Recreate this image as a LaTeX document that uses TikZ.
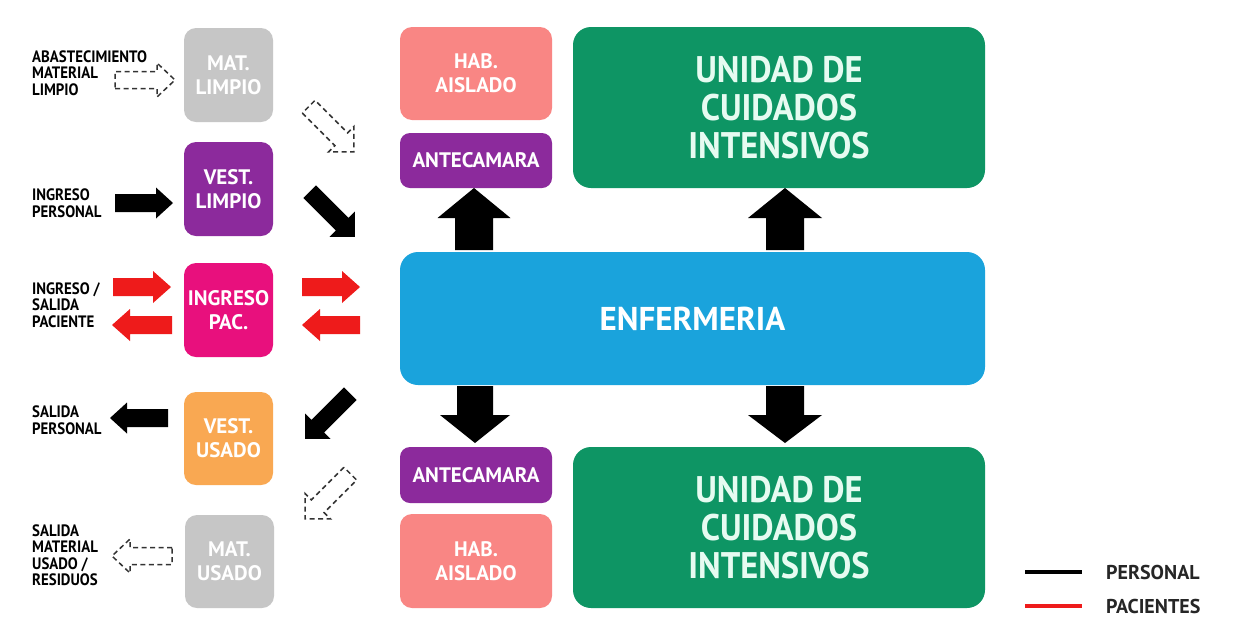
\documentclass[tikz,border=0pt]{standalone}
\usepackage{fontspec}
\newfontfamily\bxfont{PT Sans}
\newfontfamily\ucifont[FakeStretch=0.93]{PT Sans}
\newfontfamily\lblfont[FakeStretch=0.9]{PT Sans}
\definecolor{cgray}{HTML}{C6C6C6}
\definecolor{cpurple}{HTML}{8C2A9C}
\definecolor{cmagenta}{HTML}{E8107D}
\definecolor{corange}{HTML}{F9A852}
\definecolor{csalmon}{HTML}{F98684}
\definecolor{cgreen}{HTML}{0E9564}
\definecolor{cblue}{HTML}{1AA3DC}
\definecolor{cred}{HTML}{EE1B1B}
\definecolor{cmint}{HTML}{E6FBF1}
\newcommand\blockarrow[7]{%
  \begin{scope}[shift={(#2)},rotate=#3]
    \path[#1] (0,-#5) -- ({#4-#7},-#5) -- ({#4-#7},-#6) -- (#4,0) -- ({#4-#7},#6) -- ({#4-#7},#5) -- (0,#5) -- cycle;
  \end{scope}}
\tikzset{
  box/.style={rounded corners=12pt, inner sep=0pt, align=center, text=white,
    font=\bxfont\bfseries\fontsize{21}{24}\selectfont},
  bigbox/.style={rounded corners=18pt, inner sep=0pt, align=center},
  lbl/.style={anchor=west, align=left, inner sep=0pt, text=black,
    font=\lblfont\bfseries\fontsize{16.5}{16.5}\selectfont},
  legtext/.style={anchor=west, inner sep=0pt, text=black!85,
    font=\bxfont\bfseries\fontsize{20}{22}\selectfont},
  blkarr/.style={fill=black},
  redarr/.style={fill=cred},
  dasharr/.style={draw=black!80, fill=white, line width=1.5pt, dash pattern=on 5pt off 3.5pt},
  legline/.style={line width=4pt}
}
\begin{document}
\begin{tikzpicture}[x=1pt,y=1pt]
\useasboundingbox[fill=white] (0,0) rectangle (1260,-630);
% left column boxes
\node[box, fill=cgray, minimum width=89pt, minimum height=94pt] (matl) at (228.5,-75) {MAT.\\LIMPIO};
\node[box, fill=cpurple, minimum width=89pt, minimum height=94pt] (vestl) at (228.5,-189) {VEST.\\LIMPIO};
\node[box, fill=cmagenta, minimum width=89pt, minimum height=94pt] (ingpac) at (228.5,-310) {INGRESO\\PAC.};
\node[box, fill=corange, minimum width=89pt, minimum height=93pt] (vestu) at (228.5,-438.5) {VEST.\\USADO};
\node[box, fill=cgray, minimum width=89pt, minimum height=93pt] (matu) at (229.5,-561.5) {MAT.\\USADO};
% middle column
\node[box, fill=csalmon, minimum width=152pt, minimum height=93pt] (habt) at (476,-73.5) {HAB.\\AISLADO};
\node[box, fill=cpurple, minimum width=152pt, minimum height=55pt, rounded corners=10pt] (antet) at (476,-160.5) {ANTECAMARA};
\node[box, fill=cpurple, minimum width=152pt, minimum height=56pt, rounded corners=10pt] (anteb) at (476,-475) {ANTECAMARA};
\node[box, fill=csalmon, minimum width=152pt, minimum height=94pt] (habb) at (476,-561) {HAB.\\AISLADO};
% big boxes
\node[bigbox, fill=cgreen, minimum width=412pt, minimum height=161pt, text=cmint,
  font=\ucifont\bfseries\fontsize{37}{38}\selectfont] (ucit) at (779,-107.5) {UNIDAD DE\\CUIDADOS\\INTENSIVOS};
\node[bigbox, fill=cblue, minimum width=585pt, minimum height=133pt, text=white,
  font=\bxfont\bfseries\fontsize{33}{36}\selectfont] (enf) at (692.5,-318.5) {ENFERMERIA};
\node[bigbox, fill=cgreen, minimum width=412pt, minimum height=161pt, text=cmint,
  font=\ucifont\bfseries\fontsize{37}{38}\selectfont] (ucib) at (779,-527.5) {UNIDAD DE\\CUIDADOS\\INTENSIVOS};
% left labels
\node[lbl] (l1) at (32,-73) {ABASTECIMIENTO\\MATERIAL\\LIMPIO};
\node[lbl] (l2) at (32,-203) {INGRESO\\PERSONAL};
\node[lbl] (l3) at (32,-305) {INGRESO /\\SALIDA\\PACIENTE};
\node[lbl] (l4) at (32,-420) {SALIDA\\PERSONAL};
\node[lbl] (l5) at (32,-555) {SALIDA\\MATERIAL\\USADO /\\RESIDUOS};
% horizontal arrows
\blockarrow{dasharr}{115,-80}{0}{60}{8.5}{17}{18}
\blockarrow{blkarr}{115,-203}{0}{58}{9}{15.5}{17}
\blockarrow{redarr}{113,-287}{0}{58}{9}{16}{18}
\blockarrow{redarr}{172,-325}{180}{60}{9}{16}{18}
\blockarrow{redarr}{302,-287}{0}{58}{9}{16}{18}
\blockarrow{redarr}{360,-325}{180}{58}{9}{16}{18}
\blockarrow{blkarr}{168,-418}{180}{58}{9}{15.5}{17}
\blockarrow{dasharr}{172,-556}{180}{60}{8.5}{17}{18}
% diagonal arrows
\blockarrow{dasharr}{308.7,-106.7}{-45}{64}{9}{18}{18}
\blockarrow{blkarr}{309.7,-191.7}{-45}{64}{9}{18}{18}
\blockarrow{blkarr}{350.3,-393.7}{-135}{64}{9}{18}{18}
\blockarrow{dasharr}{350.3,-473.7}{-135}{64}{9}{18}{18}
% vertical big arrows
\blockarrow{blkarr}{474,-250}{90}{62}{19}{36.5}{30}
\blockarrow{blkarr}{785,-250}{90}{62}{19}{37}{30}
\blockarrow{blkarr}{475,-386}{-90}{57}{18}{35}{28}
\blockarrow{blkarr}{785,-386}{-90}{57}{19}{37}{28}
% legend
\coordinate (lp1) at (1025,-572);
\coordinate (lp2) at (1082,-572);
\coordinate (lc1) at (1025,-606);
\coordinate (lc2) at (1082,-606);
\draw[legline, black] (lp1) -- (lp2);
\draw[legline, cred] (lc1) -- (lc2);
\node[legtext] (tp) at (1106,-572) {PERSONAL};
\node[legtext] (tc) at (1106,-606) {PACIENTES};
\end{tikzpicture}
\end{document}
